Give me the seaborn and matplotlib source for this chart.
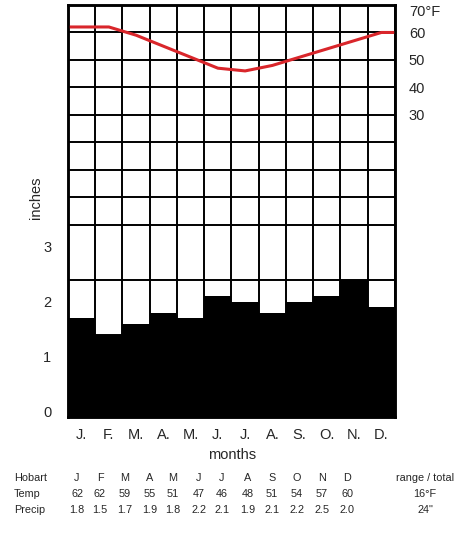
import matplotlib
matplotlib.use("Agg")
import matplotlib.pyplot as plt
import seaborn as sns
import pandas as pd
import numpy as np

# ---- data ----
months = ["J.", "F.", "M.", "A.", "M.", "J.", "J.", "A.", "S.", "O.", "N.", "D."]
table_months = ["J", "F", "M", "A", "M", "J", "J", "A", "S", "O", "N", "D"]
temp_f = [62, 62, 59, 55, 51, 47, 46, 48, 51, 54, 57, 60]
precip_in = [1.8, 1.5, 1.7, 1.9, 1.8, 2.2, 2.1, 1.9, 2.1, 2.2, 2.5, 2.0]
left_ticks = [0, 1, 2, 3]
right_ticks = [70, 60, 50, 40, 30]
right_labels = ["70°F", "60", "50", "40", "30"]
station = "Hobart"
row_names = ["Temp", "Precip"]
range_header = "range / total"
temp_range = "16°F"
precip_total = '24"'

sns.set_theme(style="white")
plt.rcParams["font.family"] = ["Liberation Sans", "DejaVu Sans"]

W, H = 475, 533
fig = plt.figure(figsize=(W / 100, H / 100), dpi=100)
L, R, T, B = 68, 395, 5, 417
ax = fig.add_axes([L / W, 1 - B / H, (R - L) / W, (B - T) / H])

df = pd.DataFrame({"month": range(12), "precip": precip_in})
sns.barplot(data=df, x="month", y="precip", color="black", width=1.0,
            saturation=1, errorbar=None, linewidth=0, ax=ax)
ax.set_xlim(-0.5, 11.5)
ax.set_ylim(0, 7.5)

# grid
ax.set_xticks(np.arange(-0.5, 12, 1), minor=True)
ax.set_yticks(np.arange(0, 7.51, 0.5), minor=True)
ax.grid(False)
ax.grid(True, which="minor", color="black", linewidth=1.4)
ax.set_axisbelow(True)

ax.set_xticks(range(12))
ax.set_xticklabels(months, fontsize=10.5)
ax.set_yticks(left_ticks)
ax.set_yticklabels([str(t) for t in left_ticks], fontsize=10.5)
ax.tick_params(axis="both", which="both", length=0)
ax.tick_params(axis="x", pad=8)
ax.tick_params(axis="y", pad=12)
for lbl in ax.get_yticklabels():
    lbl.set_verticalalignment("baseline")
ax.set_xlabel("")
ax.set_ylabel("inches", fontsize=10.5)
ax.yaxis.set_label_coords(-0.075, 4 / 7.5)
for s in ax.spines.values():
    s.set_visible(True)
    s.set_color("black")
    s.set_linewidth(1.8)

# temperature line on the right axis
ax2 = ax.twinx()
xs = [-0.5] + list(range(12)) + [11.5]
ys = [temp_f[0]] + temp_f + [temp_f[-1]]
sns.lineplot(x=xs, y=ys, ax=ax2, color="#d9262b", linewidth=2.2, sort=False)
ax2.set_ylim(-80, 70)
ax2.set_xlim(-0.5, 11.5)
ax2.set_yticks(right_ticks)
ax2.set_yticklabels(right_labels, fontsize=10.5)
ax2.tick_params(axis="y", length=0, pad=10)
ax2.get_yticklabels()[0].set_verticalalignment("top")
ax2.grid(False)
for s in ax2.spines.values():
    s.set_visible(True)
    s.set_color("black")
    s.set_linewidth(1.8)

fig.text(232 / W, 1 - 455 / H, "months", ha="center", va="center", fontsize=10.5)

# data table below
fs = 7.8
rows_y = [478, 494, 510]
col_x = [77, 100, 125, 150, 173, 199, 222, 248, 272, 297, 322, 347]
for r, name in enumerate([station] + row_names):
    fig.text(14 / W, 1 - rows_y[r] / H, name, ha="left", va="center", fontsize=fs)
for i in range(12):
    cx = col_x[i] / W
    fig.text(cx, 1 - rows_y[0] / H, table_months[i], ha="center", va="center", fontsize=fs)
    fig.text(cx, 1 - rows_y[1] / H, str(temp_f[i]), ha="center", va="center", fontsize=fs)
    fig.text(cx, 1 - rows_y[2] / H, f"{precip_in[i]:.1f}", ha="center", va="center", fontsize=fs)
fig.text(425 / W, 1 - rows_y[0] / H, range_header, ha="center", va="center", fontsize=fs)
fig.text(425 / W, 1 - rows_y[1] / H, temp_range, ha="center", va="center", fontsize=fs)
fig.text(425 / W, 1 - rows_y[2] / H, precip_total, ha="center", va="center", fontsize=fs)

fig.savefig("out.png", dpi=100)
